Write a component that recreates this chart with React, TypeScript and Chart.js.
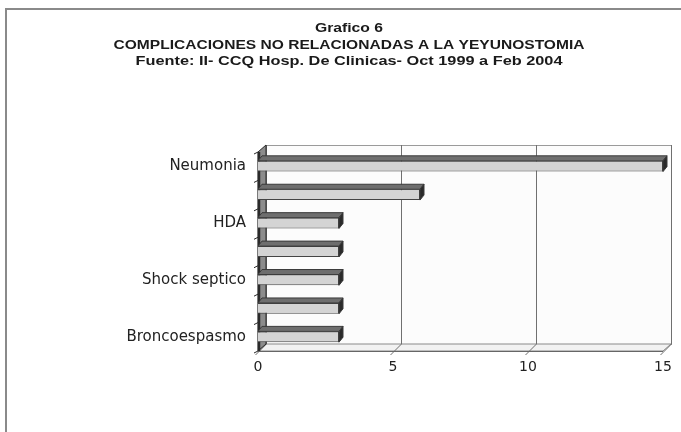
import React, { useEffect, useRef } from 'react';
import { Chart, registerables } from 'chart.js';

Chart.register(...registerables);

const categories = ['Neumonia', '', 'HDA', '', 'Shock septico', '', 'Broncoespasmo'];
const values = [15, 6, 3, 3, 3, 3, 3];
const xMin = 0;
const xMax = 15;
const xStep = 5;
const titleLines = [
  'Grafico 6',
  'COMPLICACIONES NO RELACIONADAS A LA YEYUNOSTOMIA',
  'Fuente: II- CCQ Hosp. De Clinicas- Oct 1999 a Feb 2004',
];

const DX = 8;
const DY = 7;

const backgroundPlugin = {
  id: 'pageBg',
  beforeDraw(chart: any) {
    const { ctx, width, height } = chart;
    ctx.save();
    ctx.fillStyle = '#ffffff';
    ctx.fillRect(0, 0, width, height);
    // outer frame (top + left)
    ctx.strokeStyle = '#8a8a8a';
    ctx.lineWidth = 2;
    ctx.beginPath();
    ctx.moveTo(5, 9);
    ctx.lineTo(width, 9);
    ctx.moveTo(6, 9);
    ctx.lineTo(6, height);
    ctx.stroke();
    // title
    const widths = [68, 471, 427];
    const ys = [29, 45.5, 62];
    ctx.fillStyle = '#1a1a1a';
    ctx.textAlign = 'center';
    ctx.textBaseline = 'middle';
    titleLines.forEach((line, i) => {
      ctx.font = 'bold 12px "Liberation Sans", Arial, sans-serif';
      const w = ctx.measureText(line).width;
      const sx = widths[i] / w;
      ctx.save();
      ctx.translate(349, ys[i]);
      ctx.scale(sx, 1);
      ctx.fillText(line, 0, 0);
      ctx.restore();
    });
    ctx.restore();
  },
};

const wallsPlugin = {
  id: 'walls3d',
  beforeDatasetsDraw(chart: any) {
    const { ctx, chartArea: a, scales } = chart;
    const x = scales.x;
    const y = scales.y;
    ctx.save();
    // back wall
    ctx.fillStyle = '#fcfcfc';
    ctx.strokeStyle = '#9a9a9a';
    ctx.lineWidth = 1;
    ctx.fillRect(a.left + DX, a.top - DY, a.right - a.left, a.bottom - a.top);
    ctx.strokeRect(a.left + DX + 0.5, a.top - DY + 0.5, a.right - a.left, a.bottom - a.top);
    // floor
    ctx.beginPath();
    ctx.moveTo(a.left, a.bottom);
    ctx.lineTo(a.left + DX, a.bottom - DY);
    ctx.lineTo(a.right + DX, a.bottom - DY);
    ctx.lineTo(a.right, a.bottom);
    ctx.closePath();
    ctx.fillStyle = '#f2f2f2';
    ctx.fill();
    ctx.strokeStyle = '#8a8a8a';
    ctx.stroke();
    // gridlines on back wall + floor
    ctx.strokeStyle = '#707070';
    x.ticks.forEach((t: any) => {
      const px = Math.round(x.getPixelForValue(t.value)) + 0.5;
      ctx.beginPath();
      ctx.moveTo(px + DX, a.top - DY);
      ctx.lineTo(px + DX, a.bottom - DY);
      ctx.stroke();
      ctx.beginPath();
      ctx.moveTo(px + DX, a.bottom - DY);
      ctx.lineTo(px - 3, a.bottom + 4);
      ctx.stroke();
    });
    // front floor edge
    ctx.strokeStyle = '#666';
    ctx.beginPath();
    ctx.moveTo(a.left, a.bottom + 0.5);
    ctx.lineTo(a.right, a.bottom + 0.5);
    ctx.stroke();
    // left wall
    ctx.beginPath();
    ctx.moveTo(a.left, a.top);
    ctx.lineTo(a.left + DX, a.top - DY);
    ctx.lineTo(a.left + DX, a.bottom - DY);
    ctx.lineTo(a.left, a.bottom);
    ctx.closePath();
    ctx.fillStyle = '#8c8c8c';
    ctx.fill();
    ctx.strokeStyle = '#2a2a2a';
    ctx.lineWidth = 1;
    ctx.stroke();
    ctx.lineWidth = 2.5;
    ctx.beginPath();
    ctx.moveTo(a.left + 1, a.top);
    ctx.lineTo(a.left + 1, a.bottom);
    ctx.stroke();
    // category tick marks
    ctx.lineWidth = 1;
    for (let i = 0; i <= categories.length; i++) {
      const py = y.getPixelForValue(i - 0.5);
      ctx.beginPath();
      ctx.moveTo(a.left - 4, py + 2);
      ctx.lineTo(a.left, py);
      ctx.stroke();
    }
    ctx.restore();
  },
  afterDatasetsDraw(chart: any) {
    const { ctx } = chart;
    const meta = chart.getDatasetMeta(0);
    const bx = 4;
    const by = 5;
    ctx.save();
    ctx.lineWidth = 1;
    meta.data.forEach((el: any) => {
      const p = el.getProps(['x', 'y', 'base', 'height'], true);
      const top = p.y - p.height / 2;
      const bottom = p.y + p.height / 2;
      // top face
      ctx.beginPath();
      ctx.moveTo(p.base, top);
      ctx.lineTo(p.base + bx, top - by);
      ctx.lineTo(p.x + bx, top - by);
      ctx.lineTo(p.x, top);
      ctx.closePath();
      ctx.fillStyle = '#6e6e6e';
      ctx.fill();
      ctx.strokeStyle = '#3a3a3a';
      ctx.stroke();
      // right face
      ctx.beginPath();
      ctx.moveTo(p.x, top);
      ctx.lineTo(p.x + bx, top - by);
      ctx.lineTo(p.x + bx, bottom - by);
      ctx.lineTo(p.x, bottom);
      ctx.closePath();
      ctx.fillStyle = '#2a2a2a';
      ctx.fill();
      ctx.stroke();
    });
    ctx.restore();
  },
};

export default function App() {
  const ref = useRef<HTMLCanvasElement | null>(null);

  useEffect(() => {
    if (!ref.current) return;
    const chart = new Chart(ref.current, {
      type: 'bar',
      data: {
        labels: categories,
        datasets: [
          {
            data: values,
            backgroundColor: '#d4d4d4',
            borderColor: '#444444',
            borderWidth: 1,
            barPercentage: 0.38,
            categoryPercentage: 1,
          },
        ],
      },
      options: {
        indexAxis: 'y',
        responsive: false,
        animation: false,
        layout: { padding: { top: 152, right: 18, bottom: 0, left: 0 } },
        plugins: {
          legend: { display: false },
          tooltip: { enabled: false },
          title: { display: false },
        },
        scales: {
          x: {
            type: 'linear',
            min: xMin,
            max: xMax,
            ticks: {
              stepSize: xStep,
              color: '#222',
              padding: 8,
              font: { family: '"DejaVu Sans", sans-serif', size: 14 },
            },
            grid: { display: false, drawTicks: false },
            border: { display: false },
            afterFit(s: any) {
              s.height = 81;
            },
          },
          y: {
            type: 'category',
            ticks: {
              color: '#222',
              padding: 12,
              autoSkip: false,
              font: { family: '"DejaVu Sans", sans-serif', size: 15 },
            },
            grid: { display: false, drawTicks: false },
            border: { display: false },
            afterFit(s: any) {
              s.width = 258;
            },
          },
        },
      },
      plugins: [backgroundPlugin, wallsPlugin],
    });
    return () => chart.destroy();
  }, []);

  return (
    <div style={{ position: 'absolute', left: 0, top: 0, width: 681, height: 432 }}>
      <canvas ref={ref} width={681} height={432} style={{ display: 'block' }} />
    </div>
  );
}
